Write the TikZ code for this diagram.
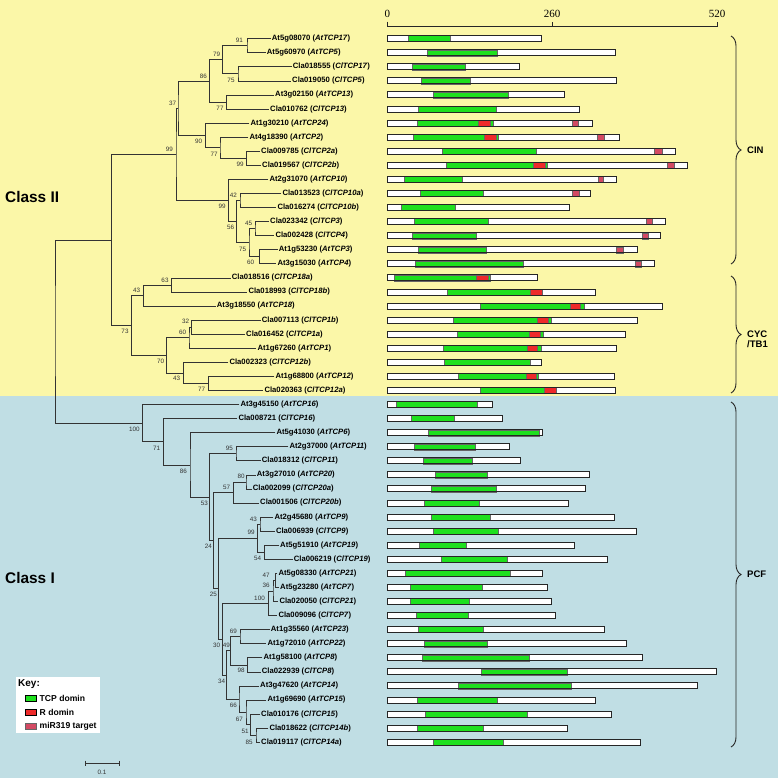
\documentclass[tikz,border=0pt]{standalone}
\usepackage{fontspec}
\setmainfont{Liberation Sans}
\newfontfamily\axisfont{Liberation Serif}
\usetikzlibrary{decorations.pathreplacing}
\definecolor{bgyellow}{HTML}{FBF7A8}
\definecolor{bgblue}{HTML}{C0DEE4}
\definecolor{tcp}{HTML}{1EE01E}
\definecolor{rdom}{HTML}{EE2A2A}
\definecolor{mir}{HTML}{D34A63}
\begin{document}
\begin{tikzpicture}[x=1pt,y=-1pt,
	leaf/.style={anchor=west,inner xsep=1pt,inner ysep=0pt,font=\fontsize{7.7}{8}\selectfont\bfseries},
	boot/.style={inner sep=0pt,font=\fontsize{6.3}{6.3}\selectfont,text=black!80},
	branch/.style={draw=black!80,line width=0.7pt},
	famlab/.style={anchor=west,inner sep=1pt,align=left,font=\fontsize{9.5}{10.5}\selectfont\bfseries},
	classlab/.style={anchor=west,inner sep=0pt,font=\fontsize{15.4}{16}\selectfont\bfseries},
	keylab/.style={anchor=west,inner sep=0pt,font=\fontsize{8.6}{9}\selectfont\bfseries},
	fambrace/.style={decorate,decoration={brace,amplitude=10pt},line width=0.9pt,black!85}]
	\newcommand{\xzero}{387.3}
	\newcommand{\tcpbar}[3]{%
		\fill[white] (\xzero,#1-3) rectangle (#2,#1+3);
		\foreach \s/\e/\c in {#3} {\filldraw[fill=\c,draw=black!60,line width=0.4pt] (\s,#1-3) rectangle (\e,#1+3);}
		\draw[black!85,line width=1pt] (\xzero,#1-3) rectangle (#2,#1+3);}
	\useasboundingbox (0,0) rectangle (778,778);
	%background
	\fill[bgyellow] (0,0) rectangle (778,396);
	\fill[bgblue] (0,396) rectangle (778,778);
	\node[classlab] (c2) at (5,197) {Class II};
	\node[classlab] (c1) at (5,578) {Class I};
	%leaves
	\node[leaf] (l1) at (270.7,38.7) {At5g08070 (\textit{AtTCP17})};
	\node[leaf] (l2) at (265.7,52.8) {At5g60970 (\textit{AtTCP5})};
	\node[leaf] (l3) at (291.7,66.8) {Cla018555 (\textit{ClTCP17})};
	\node[leaf] (l4) at (291,80.9) {Cla019050 (\textit{ClTCP5})};
	\node[leaf] (l5) at (274,95) {At3g02150 (\textit{AtTCP13})};
	\node[leaf] (l6) at (269,109.1) {Cla010762 (\textit{ClTCP13})};
	\node[leaf] (l7) at (249.3,123.1) {At1g30210 (\textit{AtTCP24})};
	\node[leaf] (l8) at (248.3,137.2) {At4g18390 (\textit{AtTCP2})};
	\node[leaf] (l9) at (260,151.3) {Cla009785 (\textit{ClTCP2a})};
	\node[leaf] (l10) at (261,165.3) {Cla019567 (\textit{ClTCP2b})};
	\node[leaf] (l11) at (268.3,179.4) {At2g31070 (\textit{AtTCP10})};
	\node[leaf] (l12) at (281.3,193.5) {Cla013523 (\textit{ClTCP10a})};
	\node[leaf] (l13) at (276.3,207.5) {Cla016274 (\textit{ClTCP10b})};
	\node[leaf] (l14) at (269,221.6) {Cla023342 (\textit{ClTCP3})};
	\node[leaf] (l15) at (274.3,235.7) {Cla002428 (\textit{ClTCP4})};
	\node[leaf] (l16) at (277.7,249.8) {At1g53230 (\textit{AtTCP3})};
	\node[leaf] (l17) at (276.3,263.8) {At3g15030 (\textit{AtTCP4})};
	\node[leaf] (l18) at (230.7,277.9) {Cla018516 (\textit{ClTCP18a})};
	\node[leaf] (l19) at (247.3,292) {Cla018993 (\textit{ClTCP18b})};
	\node[leaf] (l20) at (215.7,306) {At3g18550 (\textit{AtTCP18})};
	\node[leaf] (l21) at (260.7,320.1) {Cla007113 (\textit{ClTCP1b})};
	\node[leaf] (l22) at (245,334.2) {Cla016452 (\textit{ClTCP1a})};
	\node[leaf] (l23) at (256.3,348.2) {At1g67260 (\textit{AtTCP1})};
	\node[leaf] (l24) at (228.3,362.3) {Cla002323 (\textit{ClTCP12b})};
	\node[leaf] (l25) at (274.3,376.4) {At1g68800 (\textit{AtTCP12})};
	\node[leaf] (l26) at (263.3,390.5) {Cla020363 (\textit{ClTCP12a})};
	\node[leaf] (l27) at (239.3,404.5) {At3g45150 (\textit{AtTCP16})};
	\node[leaf] (l28) at (237.3,418.6) {Cla008721 (\textit{ClTCP16})};
	\node[leaf] (l29) at (275.3,432.7) {At5g41030 (\textit{AtTCP6})};
	\node[leaf] (l30) at (288.3,446.7) {At2g37000 (\textit{AtTCP11})};
	\node[leaf] (l31) at (260.7,460.8) {Cla018312 (\textit{ClTCP11})};
	\node[leaf] (l32) at (255.7,474.9) {At3g27010 (\textit{AtTCP20})};
	\node[leaf] (l33) at (251.7,488.9) {Cla002099 (\textit{ClTCP20a})};
	\node[leaf] (l34) at (259,503) {Cla001506 (\textit{ClTCP20b})};
	\node[leaf] (l35) at (273.3,517.1) {At2g45680 (\textit{AtTCP9})};
	\node[leaf] (l36) at (274.8,531.2) {Cla006939 (\textit{ClTCP9})};
	\node[leaf] (l37) at (279,545.2) {At5g51910 (\textit{AtTCP19})};
	\node[leaf] (l38) at (292.7,559.3) {Cla006219 (\textit{ClTCP19})};
	\node[leaf] (l39) at (277.3,573.4) {At5g08330 (\textit{AtTCP21})};
	\node[leaf] (l40) at (279,587.4) {At5g23280 (\textit{AtTCP7})};
	\node[leaf] (l41) at (278.3,601.5) {Cla020050 (\textit{ClTCP21})};
	\node[leaf] (l42) at (277.3,615.6) {Cla009096 (\textit{ClTCP7})};
	\node[leaf] (l43) at (269.7,629.6) {At1g35560 (\textit{AtTCP23})};
	\node[leaf] (l44) at (266.3,643.7) {At1g72010 (\textit{AtTCP22})};
	\node[leaf] (l45) at (262.3,657.8) {At1g58100 (\textit{AtTCP8})};
	\node[leaf] (l46) at (260.7,671.9) {Cla022939 (\textit{ClTCP8})};
	\node[leaf] (l47) at (259,685.9) {At3g47620 (\textit{AtTCP14})};
	\node[leaf] (l48) at (266.3,700) {At1g69690 (\textit{AtTCP15})};
	\node[leaf] (l49) at (260,714.1) {Cla010176 (\textit{ClTCP15})};
	\node[leaf] (l50) at (268.3,728.1) {Cla018622 (\textit{ClTCP14b})};
	\node[leaf] (l51) at (260,742.2) {Cla019117 (\textit{ClTCP14a})};
	%inner nodes, class II
	\coordinate (i1) at (247,45.75);
	\coordinate (i2) at (238,73.85);
	\coordinate (i3) at (222.7,59.8);
	\coordinate (i4) at (226.7,102.05);
	\coordinate (i5) at (209.3,80.9);
	\coordinate (i6) at (246.7,158.3);
	\coordinate (i7) at (220,147.75);
	\coordinate (i8) at (205.3,135.4);
	\coordinate (i9) at (178,108.15);
	\coordinate (i10) at (240,200.5);
	\coordinate (i11) at (255,228.65);
	\coordinate (i12) at (259.3,256.8);
	\coordinate (i13) at (249,242.7);
	\coordinate (i14) at (236.7,221.6);
	\coordinate (i15) at (228.3,200.5);
	\coordinate (i16) at (176,154.3);
	\coordinate (i17) at (171.7,284.95);
	\coordinate (i18) at (143.3,295.5);
	\coordinate (i19) at (191.7,327.15);
	\coordinate (i20) at (189,337.7);
	\coordinate (i21) at (208.3,383.45);
	\coordinate (i22) at (183.3,372.9);
	\coordinate (i23) at (166.7,355.3);
	\coordinate (i24) at (131.7,325.4);
	\coordinate (i25) at (111.7,239.85);
	%inner nodes, class I
	\coordinate (i26) at (236,453.75);
	\coordinate (i27) at (246,481.9);
	\coordinate (i28) at (233.3,492.45);
	\coordinate (i29) at (260,524.15);
	\coordinate (i30) at (264.3,552.25);
	\coordinate (i31) at (257.3,538.2);
	\coordinate (i32) at (275.5,580.4);
	\coordinate (i33) at (273,590.95);
	\coordinate (i34) at (268.3,603.3);
	\coordinate (i35) at (240,636.65);
	\coordinate (i36) at (247.7,664.85);
	\coordinate (i37) at (230.5,650.75);
	\coordinate (i38) at (256,735.15);
	\coordinate (i39) at (250.7,724.6);
	\coordinate (i40) at (246,712.3);
	\coordinate (i41) at (239,699.1);
	\coordinate (i42) at (226.5,674.9);
	\coordinate (i43) at (222.5,639.1);
	\coordinate (i44) at (218.3,588.65);
	\coordinate (i45) at (213.8,540.55);
	\coordinate (i46) at (209.3,497.15);
	\coordinate (i47) at (190,464.9);
	\coordinate (i48) at (163.3,441.75);
	\coordinate (i49) at (142.7,423.1);
	\coordinate (i50) at (55,330);
	%branches
	\draw[branch] (l1.west) -| (i1) |- (l2.west);
	\draw[branch] (l3.west) -| (i2) |- (l4.west);
	\draw[branch] (i1) -| (i3) |- (i2);
	\draw[branch] (l5.west) -| (i4) |- (l6.west);
	\draw[branch] (i3) -| (i5) |- (i4);
	\draw[branch] (l9.west) -| (i6) |- (l10.west);
	\draw[branch] (l8.west) -| (i7) |- (i6);
	\draw[branch] (l7.west) -| (i8) |- (i7);
	\draw[branch] (i5) -| (i9) |- (i8);
	\draw[branch] (l12.west) -| (i10) |- (l13.west);
	\draw[branch] (l14.west) -| (i11) |- (l15.west);
	\draw[branch] (l16.west) -| (i12) |- (l17.west);
	\draw[branch] (i11) -| (i13) |- (i12);
	\draw[branch] (i10) -| (i14) |- (i13);
	\draw[branch] (l11.west) -| (i15) |- (i14);
	\draw[branch] (i9) -| (i16) |- (i15);
	\draw[branch] (l18.west) -| (i17) |- (l19.west);
	\draw[branch] (i17) -| (i18) |- (l20.west);
	\draw[branch] (l21.west) -| (i19) |- (l22.west);
	\draw[branch] (i19) -| (i20) |- (l23.west);
	\draw[branch] (l25.west) -| (i21) |- (l26.west);
	\draw[branch] (l24.west) -| (i22) |- (i21);
	\draw[branch] (i20) -| (i23) |- (i22);
	\draw[branch] (i18) -| (i24) |- (i23);
	\draw[branch] (i16) -| (i25) |- (i24);
	\draw[branch] (l30.west) -| (i26) |- (l31.west);
	\draw[branch] (l32.west) -| (i27) |- (l33.west);
	\draw[branch] (i27) -| (i28) |- (l34.west);
	\draw[branch] (l35.west) -| (i29) |- (l36.west);
	\draw[branch] (l37.west) -| (i30) |- (l38.west);
	\draw[branch] (i29) -| (i31) |- (i30);
	\draw[branch] (l39.west) -| (i32) |- (l40.west);
	\draw[branch] (i32) -| (i33) |- (l41.west);
	\draw[branch] (i33) -| (i34) |- (l42.west);
	\draw[branch] (l43.west) -| (i35) |- (l44.west);
	\draw[branch] (l45.west) -| (i36) |- (l46.west);
	\draw[branch] (i35) -| (i37) |- (i36);
	\draw[branch] (l50.west) -| (i38) |- (l51.west);
	\draw[branch] (l49.west) -| (i39) |- (i38);
	\draw[branch] (l48.west) -| (i40) |- (i39);
	\draw[branch] (l47.west) -| (i41) |- (i40);
	\draw[branch] (i37) -| (i42) |- (i41);
	\draw[branch] (i34) -| (i43) |- (i42);
	\draw[branch] (i31) -| (i44) |- (i43);
	\draw[branch] (i28) -| (i45) |- (i44);
	\draw[branch] (i26) -| (i46) |- (i45);
	\draw[branch] (l29.west) -| (i47) |- (i46);
	\draw[branch] (l28.west) -| (i48) |- (i47);
	\draw[branch] (l27.west) -| (i49) |- (i48);
	\draw[branch] (i25) -| (i50) |- (i49);
	%bootstrap values
	\node[boot] (b1) at (239.3,40.7) {91};
	\node[boot] (b2) at (231,80) {75};
	\node[boot] (b3) at (216.7,54.3) {79};
	\node[boot] (b4) at (220,108.3) {77};
	\node[boot] (b5) at (203.3,76) {86};
	\node[boot] (b6) at (240,164) {99};
	\node[boot] (b7) at (214,154) {77};
	\node[boot] (b8) at (198.7,141.7) {90};
	\node[boot] (b9) at (172.7,103.3) {37};
	\node[boot] (b10) at (233.3,195.7) {42};
	\node[boot] (b11) at (248.5,223) {45};
	\node[boot] (b12) at (250.7,262.7) {60};
	\node[boot] (b13) at (242.7,249.3) {75};
	\node[boot] (b14) at (230.5,227.7) {56};
	\node[boot] (b15) at (222,206.7) {99};
	\node[boot] (b16) at (169.3,149.3) {99};
	\node[boot] (b17) at (165,280) {63};
	\node[boot] (b18) at (136.7,290) {43};
	\node[boot] (b19) at (185.7,321.7) {32};
	\node[boot] (b20) at (182.7,332) {60};
	\node[boot] (b21) at (201.7,389.3) {77};
	\node[boot] (b22) at (176.7,378.3) {43};
	\node[boot] (b23) at (160.7,361.7) {70};
	\node[boot] (b24) at (125,331) {73};
	\node[boot] (b26) at (229.3,448.3) {95};
	\node[boot] (b27) at (241,476) {80};
	\node[boot] (b28) at (226.7,487.7) {57};
	\node[boot] (b29) at (253.3,519) {43};
	\node[boot] (b30) at (257.7,558.3) {54};
	\node[boot] (b31) at (251,532.7) {99};
	\node[boot] (b32) at (266,575) {47};
	\node[boot] (b33) at (266,585.7) {36};
	\node[boot] (b34) at (259.5,598.3) {100};
	\node[boot] (b35) at (233.3,631) {69};
	\node[boot] (b36) at (241,670.7) {98};
	\node[boot] (b37) at (226.3,645.3) {49};
	\node[boot] (b38) at (249,742.7) {85};
	\node[boot] (b39) at (245,731.7) {51};
	\node[boot] (b40) at (239.3,719) {67};
	\node[boot] (b41) at (233.3,705.7) {66};
	\node[boot] (b42) at (221.7,681) {34};
	\node[boot] (b43) at (216.7,645.3) {30};
	\node[boot] (b44) at (213.3,594.3) {25};
	\node[boot] (b45) at (208.3,546.7) {24};
	\node[boot] (b46) at (204.3,503.3) {53};
	\node[boot] (b47) at (183.3,471) {86};
	\node[boot] (b48) at (156.7,448.3) {71};
	\node[boot] (b49) at (134.3,429.3) {100};
	%scale bar
	\draw[black!80,line width=0.7pt] (85,760.5) -- (85,765.5) (85,763) -- (119,763) (119,760.5) -- (119,765.5);
	\node[boot] (sc) at (102,772) {0.1};
	%axis
	\draw[black!85,line width=0.9pt] (\xzero,21.7) -- (\xzero,26.7) -- (717,26.7) -- (717,21.7) (552,26.7) -- (552,21.7);
	\node[font=\axisfont\fontsize{11}{11}\selectfont,inner sep=0pt] (ax0) at (\xzero,14) {0};
	\node[font=\axisfont\fontsize{11}{11}\selectfont,inner sep=0pt] (ax1) at (552,14) {260};
	\node[font=\axisfont\fontsize{11}{11}\selectfont,inner sep=0pt] (ax2) at (717,14) {520};
	%proteins
	\tcpbar{38.7}{541}{408.3/449.7/tcp}
	\tcpbar{52.8}{615.7}{426.7/496.7/tcp}
	\tcpbar{66.8}{519.3}{412.3/465.3/tcp}
	\tcpbar{80.9}{616.3}{421/470.3/tcp}
	\tcpbar{95}{564.3}{433.3/508.3/tcp}
	\tcpbar{109.1}{579.3}{417.7/495.7/tcp}
	\tcpbar{123.1}{592.7}{416.7/478.3/tcp,478.3/490/rdom,490/493.3/tcp,571.7/578.3/mir}
	\tcpbar{137.2}{619.3}{413.3/484/tcp,484/496/rdom,496/498.3/tcp,597.3/604.3/mir}
	\tcpbar{151.3}{675.3}{441.7/536.3/tcp,654/662/mir}
	\tcpbar{165.3}{687.7}{446.3/532.7/tcp,532.7/544.7/rdom,544.7/546.7/tcp,666.7/673.7/mir}
	\tcpbar{179.4}{616.3}{404.3/462.3/tcp,598/603/mir}
	\tcpbar{193.5}{590.7}{420/483.3/tcp,572.3/579/mir}
	\tcpbar{207.5}{569.7}{401.3/455/tcp}
	\tcpbar{221.6}{665}{414.3/488/tcp,646/651.7/mir}
	\tcpbar{235.7}{660.7}{411.7/475.7/tcp,642/647.7/mir}
	\tcpbar{249.8}{637}{417.7/485.7/tcp,616.3/623.3/mir}
	\tcpbar{263.8}{654.3}{415/522.7/tcp,635.3/641/mir}
	\tcpbar{277.9}{537}{394/476/tcp,476/488.3/rdom,488.3/490/tcp}
	\tcpbar{292}{595}{446.7/529.7/tcp,529.7/542.3/rdom}
	\tcpbar{306}{662.3}{480/570/tcp,570/580/rdom,580/584/tcp}
	\tcpbar{320.1}{637.3}{453.3/536.7/tcp,536.7/547.7/rdom,547.7/551.3/tcp}
	\tcpbar{334.2}{625}{456.7/529/tcp,529/540/rdom,540/543.3/tcp}
	\tcpbar{348.2}{616.3}{442.7/526.7/tcp,526.7/537.3/rdom,537.3/540.7/tcp}
	\tcpbar{362.3}{541.3}{444.3/529.7/tcp}
	\tcpbar{376.4}{614.3}{458.3/525.7/tcp,525.7/536/rdom,536/538.3/tcp}
	\tcpbar{390.5}{615.7}{480/544/tcp,544/555.7/rdom}
	\tcpbar{404.5}{492.7}{395.7/477.3/tcp}
	\tcpbar{418.6}{502.7}{411.3/454/tcp}
	\tcpbar{432.7}{542.7}{428.3/539.3/tcp}
	\tcpbar{446.7}{509.3}{413.7/474.7/tcp}
	\tcpbar{460.8}{520}{422.7/471.7/tcp}
	\tcpbar{474.9}{589.3}{435.3/486.7/tcp}
	\tcpbar{488.9}{585.7}{430.7/496.3/tcp}
	\tcpbar{503}{568.7}{423.7/478.7/tcp}
	\tcpbar{517.1}{614}{431.3/489.7/tcp}
	\tcpbar{531.2}{636.3}{432.7/497.7/tcp}
	\tcpbar{545.2}{574.7}{419.3/465.7/tcp}
	\tcpbar{559.3}{607.3}{441/506.7/tcp}
	\tcpbar{573.4}{542}{405.3/509.7/tcp}
	\tcpbar{587.4}{547}{409.7/481.7/tcp}
	\tcpbar{601.5}{551.3}{410.3/468.7/tcp}
	\tcpbar{615.6}{555.3}{416.3/467.7/tcp}
	\tcpbar{629.6}{604.3}{418.3/483.3/tcp}
	\tcpbar{643.7}{626.3}{424.3/487.3/tcp}
	\tcpbar{657.8}{642.3}{422.3/528.7/tcp}
	\tcpbar{671.9}{716.3}{481/567.3/tcp}
	\tcpbar{685.9}{697.3}{457.7/570.7/tcp}
	\tcpbar{700}{595.3}{417/497.3/tcp}
	\tcpbar{714.1}{611}{425.3/527.3/tcp}
	\tcpbar{728.1}{567.7}{417/482.7/tcp}
	\tcpbar{742.2}{640.3}{433.3/503/tcp}
	%families
	\draw[fambrace] (731,36) -- (731,264);
	\node[famlab] (cin) at (746,150) {CIN};
	\draw[fambrace] (731,276) -- (731,393);
	\node[famlab,anchor=north west] (cyc) at (746,329.5) {CYC\\/TB1};
	\draw[fambrace] (731,402) -- (731,747);
	\node[famlab] (pcf) at (746,574.5) {PCF};
	%key
	\fill[white] (16,677) rectangle (100,733);
	\node[keylab,font=\fontsize{10}{10}\selectfont\bfseries] (key) at (18,684) {Key:};
	\filldraw[fill=tcp,draw=black,line width=0.8pt] (25,695) rectangle (36,701);
	\node[keylab] (k1) at (39.5,698) {TCP domin};
	\filldraw[fill=rdom,draw=black,line width=0.8pt] (25,709) rectangle (36,715);
	\node[keylab] (k2) at (39.5,712) {R domin};
	\filldraw[fill=mir,draw=black!60,line width=0.6pt] (25,723) rectangle (36,729);
	\node[keylab] (k3) at (39.5,726) {miR319 target};
\end{tikzpicture}
\end{document}
